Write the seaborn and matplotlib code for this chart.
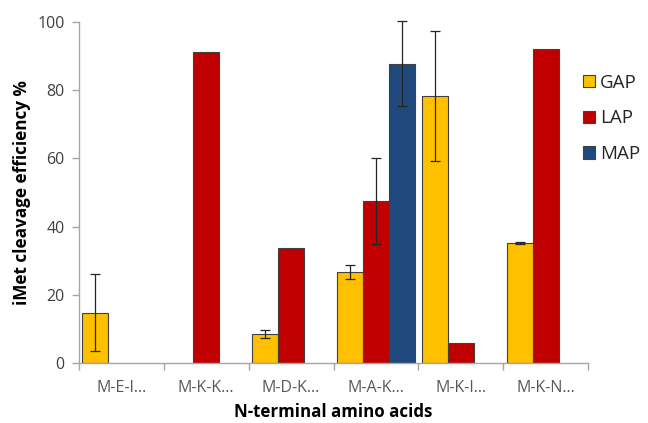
import numpy as np
import pandas as pd
import matplotlib
matplotlib.use("Agg")
import matplotlib.pyplot as plt
from matplotlib.patches import Patch
import seaborn as sns

categories = ["M-E-I\u2026", "M-K-K\u2026", "M-D-K\u2026", "M-A-K\u2026", "M-K-I\u2026", "M-K-N\u2026"]
series = ["GAP", "LAP", "MAP"]
gap_vals = [14.8, np.nan, 8.6, 26.8, 78.3, 35.2]
lap_vals = [np.nan, 91.2, 33.7, 47.5, 6.0, 92.0]
map_vals = [np.nan, np.nan, np.nan, 87.7, np.nan, np.nan]
gap_err = [11.3, np.nan, 1.1, 2.0, 19.0, 0.4]
lap_err = [np.nan, np.nan, np.nan, 12.6, np.nan, np.nan]
map_err = [np.nan, np.nan, np.nan, 12.5, np.nan, np.nan]
colors = {"GAP": "#FFC000", "LAP": "#C00000", "MAP": "#1F497D"}
y_ticks = [0, 20, 40, 60, 80, 100]

rows = []
for s, vals, errs in zip(series, [gap_vals, lap_vals, map_vals], [gap_err, lap_err, map_err]):
    for c, v, e in zip(categories, vals, errs):
        rows.append({"cat": c, "series": s, "value": v, "err": e})
df = pd.DataFrame(rows)
plot_df = df.dropna(subset=["value"])

sns.set_style("white")
plt.rcParams["font.family"] = ["Open Sans", "DejaVu Sans"]

fig = plt.figure(figsize=(6.48, 4.23), dpi=100)
ax = fig.add_axes([0.1215, 0.141, 0.7865, 0.8077])

sns.barplot(data=plot_df, x="cat", y="value", hue="series", order=categories,
            hue_order=series, palette=colors, saturation=1, width=0.918, gap=0,
            edgecolor="#404040", linewidth=0.8, errorbar=None, legend=False, ax=ax)

# error bars placed on the bars seaborn drew
for p in list(ax.patches):
    h = p.get_height()
    xc = p.get_x() + p.get_width() / 2
    match = plot_df.iloc[(plot_df["value"] - h).abs().argsort()[:1]]
    e = match["err"].values[0]
    if not np.isnan(e):
        _, caps, bars = ax.errorbar(xc, h, yerr=e, fmt="none", ecolor="#262626", elinewidth=0.9,
                                    capsize=3.5, capthick=0.9, zorder=5)
        for art in list(caps) + list(bars):
            art.set_clip_on(False)

ax.set_xlim(-0.5, len(categories) - 0.5)
ax.set_ylim(0, 100)
ax.set_yticks(y_ticks)
ax.set_xticks(np.arange(-0.5, len(categories), 1.0), minor=True)
ax.tick_params(axis="x", which="major", length=0, pad=12, labelsize=11.5, labelcolor="#595959")
ax.tick_params(axis="x", which="minor", length=5, width=1, color="#A6A6A6", direction="out", bottom=True)
ax.tick_params(axis="y", which="major", length=5, width=1, color="#A6A6A6", direction="out",
               left=True, labelsize=11.5, labelcolor="#404040", pad=5)

for side in ["top", "right"]:
    ax.spines[side].set_visible(False)
for side in ["left", "bottom"]:
    ax.spines[side].set_color("#A6A6A6")
    ax.spines[side].set_linewidth(1)

ax.set_xlabel("N-terminal amino acids", fontsize=12.2, fontweight="bold", color="black", labelpad=5)
ax.set_ylabel("iMet cleavage efficiency %", fontsize=12.3, fontweight="bold", color="black", labelpad=5)

handles = [Patch(facecolor=colors[s], edgecolor="#404040", linewidth=0.8, label=s) for s in series]
leg = ax.legend(handles=handles, loc="upper left", bbox_to_anchor=(0.975, 0.87), frameon=False,
                fontsize=13.5, handlelength=0.65, handleheight=0.65, handletextpad=0.25,
                labelspacing=0.95, borderaxespad=0)

fig.savefig("out.png", dpi=100)
